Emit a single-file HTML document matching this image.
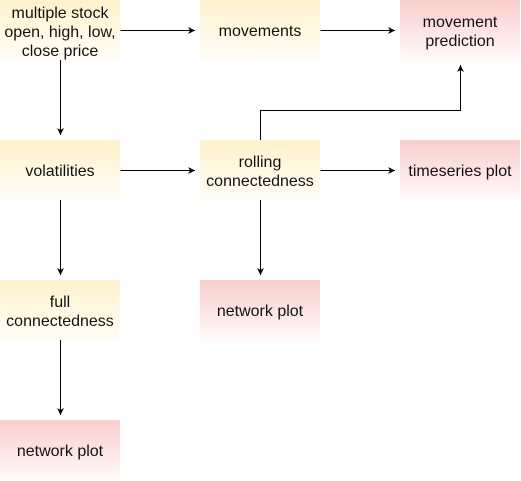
<!DOCTYPE html>
<html><head><meta charset="utf-8"><style>
html,body{margin:0;padding:0;background:#fff;}
svg{display:block;}
text{font-family:"Liberation Sans",Helvetica,Arial,sans-serif;font-size:16px;fill:#111;text-anchor:middle;}
</style></head><body>
<svg width="521" height="481" viewBox="0 0 521 481" xmlns="http://www.w3.org/2000/svg">
<defs>
<linearGradient id="y" x1="0" y1="0" x2="0" y2="1"><stop offset="0" stop-color="#fff2cc"/><stop offset="1" stop-color="#fffdf7"/></linearGradient>
<linearGradient id="r" x1="0" y1="0" x2="0" y2="1"><stop offset="0" stop-color="#f8cecc"/><stop offset="1" stop-color="#fffafa"/></linearGradient>
<marker id="a" markerWidth="8" markerHeight="8" refX="7" refY="4" orient="auto" markerUnits="userSpaceOnUse"><path d="M0,0.5 L7,4 L0,7.5 L2,4 Z" fill="#000"/></marker>
</defs>
<rect x="0" y="0" width="120" height="60" fill="url(#y)"/>
<rect x="200" y="0" width="120" height="60" fill="url(#y)"/>
<rect x="400" y="0" width="120" height="60" fill="url(#r)"/>
<rect x="0" y="140" width="120" height="60" fill="url(#y)"/>
<rect x="200" y="140" width="120" height="60" fill="url(#y)"/>
<rect x="400" y="140" width="120" height="60" fill="url(#r)"/>
<rect x="0" y="280" width="120" height="60" fill="url(#y)"/>
<rect x="200" y="280" width="120" height="60" fill="url(#r)"/>
<rect x="0" y="420" width="120" height="60" fill="url(#r)"/>

<g stroke="#000" stroke-width="1" fill="none" marker-end="url(#a)">
<path d="M120.5,30.5 H195"/>
<path d="M320.5,30.5 H395"/>
<path d="M60.5,60 V135"/>
<path d="M120.5,170.5 H195"/>
<path d="M320.5,170.5 H395"/>
<path d="M60.5,200 V275"/>
<path d="M260.5,200 V275"/>
<path d="M60.5,340 V415"/>
<path d="M260.5,140 V110.5 H460.5 V65"/>
</g>

<text x="60" y="18">multiple stock</text>
<text x="60" y="37">open, high, low,</text>
<text x="60" y="56">close price</text>
<text x="260" y="36">movements</text>
<text x="460" y="27">movement</text>
<text x="460" y="46">prediction</text>
<text x="60" y="176">volatilities</text>
<text x="260" y="167">rolling</text>
<text x="260" y="186">connectedness</text>
<text x="460" y="176">timeseries plot</text>
<text x="60" y="307">full</text>
<text x="60" y="326">connectedness</text>
<text x="260" y="316">network plot</text>
<text x="60" y="456">network plot</text>
</svg>
</body></html>
